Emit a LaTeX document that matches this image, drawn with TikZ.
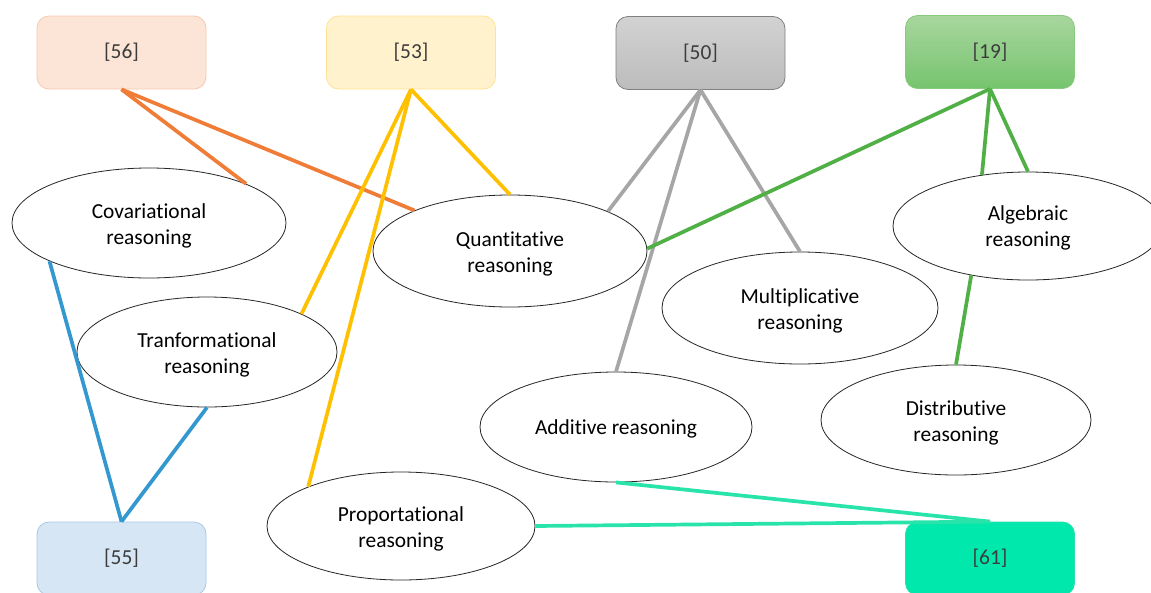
\documentclass[tikz,border=0pt]{standalone}
\usepackage{fontspec}
\setmainfont[Ligatures=NoCommon]{Carlito}
\usetikzlibrary{shapes.geometric}
\definecolor{corange}{RGB}{240,125,55}
\definecolor{cyellow}{RGB}{255,192,0}
\definecolor{cgrey}{RGB}{166,166,166}
\definecolor{cgreen}{RGB}{80,176,70}
\definecolor{cblue}{RGB}{52,152,208}
\definecolor{cteal}{RGB}{40,228,170}
\definecolor{f56}{RGB}{252,228,214}\definecolor{d56}{RGB}{248,200,175}
\definecolor{f53}{RGB}{255,242,204}\definecolor{d53}{RGB}{255,226,150}
\definecolor{t50}{RGB}{210,210,210}\definecolor{b50}{RGB}{188,188,188}\definecolor{d50}{RGB}{128,128,128}
\definecolor{t19}{RGB}{168,214,158}\definecolor{b19}{RGB}{118,196,110}\definecolor{d19}{RGB}{135,202,125}
\definecolor{f55}{RGB}{214,230,245}\definecolor{d55}{RGB}{170,200,230}
\definecolor{f61}{RGB}{0,232,172}\definecolor{d61}{RGB}{40,222,170}
\definecolor{boxtext}{RGB}{60,60,60}
\tikzset{
  refbox/.style={rectangle, rounded corners=12pt, minimum width=169pt, minimum height=73pt, inner sep=0pt, line width=0.8pt, text=boxtext, font=\fontsize{21.4}{26}\selectfont},
  concept/.style={ellipse, draw=black!85, line width=0.8pt, fill=white, inner sep=0pt, align=center, font=\fontsize{21.4}{26}\selectfont},
  conceptlabel/.style={align=center, inner sep=0pt, font=\fontsize{21.4}{26}\selectfont},
  link/.style={line width=3.7pt}
}
\begin{document}
\begin{tikzpicture}[x=1pt,y=-1pt]
\useasboundingbox (0,0) rectangle (1151,592);
\fill[white] (0,0) rectangle (1151,592);
% boxes
\node[refbox, fill=f56, draw=d56] (b56) at (121.5,52.5) {[56]};
\node[refbox, fill=f53, draw=d53] (b53) at (411,52.5) {[53]};
\node[refbox, top color=t50, bottom color=b50, draw=d50] (b50) at (700.5,53) {[50]};
\node[refbox, top color=t19, bottom color=b19, draw=d19] (b19) at (990,52) {[19]};
\node[refbox, fill=f55, draw=d55] (b55) at (121.5,558.5) {[55]};
\node[refbox, fill=f61, draw=d61] (b61) at (990,558.5) {[61]};
% ellipses
\node[concept, minimum width=274pt, minimum height=110pt] (cov) at (149,223) {};
\node[concept, minimum width=274pt, minimum height=112pt] (qua) at (510,251) {};
\node[concept, minimum width=260pt, minimum height=110pt] (tra) at (207,352) {};
\node[concept, minimum width=268pt, minimum height=108pt] (pro) at (401,526) {};
\node[concept, minimum width=276pt, minimum height=112pt] (mul) at (800,308) {};
\node[concept, minimum width=272pt, minimum height=110pt] (add) at (616,427) {};
\node[concept, minimum width=270pt, minimum height=108pt] (alg) at (1028,226) {};
\node[concept, minimum width=270pt, minimum height=110pt] (dis) at (956,420) {};
% labels
\node[conceptlabel] (covt) at ([yshift=-2.5pt]cov.center) {Covariational\\reasoning};
\node[conceptlabel] (quat) at ([yshift=-2.5pt]qua.center) {Quantitative\\reasoning};
\node[conceptlabel] (trat) at ([yshift=-2.5pt]tra.center) {Tranformational\\reasoning};
\node[conceptlabel] (prot) at ([yshift=-2.5pt]pro.center) {Proportational\\reasoning};
\node[conceptlabel] (mult) at ([yshift=-2.5pt]mul.center) {Multiplicative\\reasoning};
\node[conceptlabel] (addt) at ([yshift=-1.5pt]add.center) {Additive reasoning};
\node[conceptlabel] (algt) at ([yshift=-2pt]alg.center) {Algebraic\\reasoning};
\node[conceptlabel] (dist) at ([yshift=-2.5pt]dis.center) {Distributive\\reasoning};
% connectors
\draw[link, corange] (b56.south) -- (cov.22.6);
\draw[link, corange] (b56.south) -- (qua.157.6);
\draw[link, cyellow] (b53.south) -- (qua.90);
\draw[link, cyellow] (b53.south) -- (tra.22.7);
\draw[link, cyellow] (b53.south) -- (pro.157.5);
\draw[link, cgrey] (b50.south) -- (qua.22.7);
\draw[link, cgrey] (b50.south) -- (add.90);
\draw[link, cgrey] (b50.south) -- (mul.90);
\draw[link, cgreen] (b19.south) -- (qua.1);
\draw[link, cgreen] (b19.south) -- (alg.132);
\draw[link, cgreen] (b19.south) -- (alg.90);
\draw[link, cgreen] (alg.221) -- (dis.90);
\draw[link, cblue] (b55.north) -- (cov.201.9);
\draw[link, cblue] (b55.north) -- (tra.270);
\draw[link, cteal] (b61.north) -- (add.270);
\draw[link, cteal] (b61.north) -- (pro.0);
\end{tikzpicture}
\end{document}
